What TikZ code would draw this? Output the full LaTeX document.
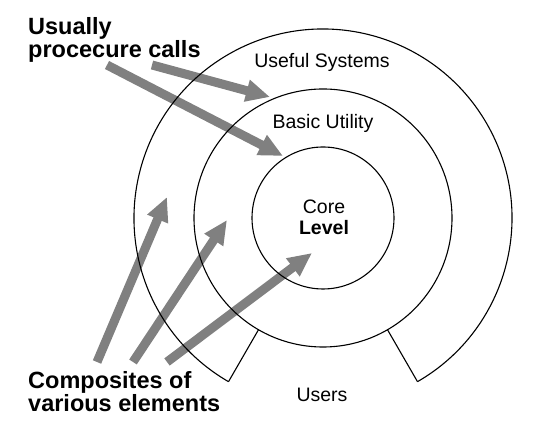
\documentclass[tikz,border=0pt]{standalone}
\usepackage{fontspec}
\setmainfont{Liberation Sans}
\usetikzlibrary{calc}
\usetikzlibrary{positioning, arrows.meta}

\begin{document}
\begin{tikzpicture}[x=1pt, y=1pt,
    ring/.style={draw=black, line width=1.1pt},
    callarrow/.style={draw=gray, line width=9pt, -{Triangle[length=24pt, width=21pt]}},
    ringlabel/.style={font=\fontsize{19.5}{21}\selectfont, inner sep=0pt},
    sidelabel/.style={font=\fontsize{23.5}{23.5}\selectfont\bfseries, align=left, inner sep=0pt, anchor=north west}]
    \useasboundingbox (0,0) rectangle (552,430);
    \coordinate (centre) at (323,212);

    \node[sidelabel] (calls) at (28,413) {Usually\\procecure calls};
    \node[sidelabel] (composites) at (28,59) {Composites of\\various elements};

    \coordinate (callA) at (152,365);
    \coordinate (callB) at (107,365);
    \coordinate (compA) at (97,68);
    \coordinate (compB) at (133,68);
    \coordinate (compC) at (167,68);
    \coordinate (hitA) at (270,333);
    \coordinate (hitB) at (283,274);
    \coordinate (hitC) at (167,233);
    \coordinate (hitD) at (227,210);
    \coordinate (hitE) at (312,177);

    \draw[callarrow] (callA) -- (hitA);
    \draw[callarrow] (callB) -- (hitB);
    \draw[callarrow] (compA) -- (hitC);
    \draw[callarrow] (compB) -- (hitD);
    \draw[callarrow] (compC) -- (hitE);

    \draw[ring] (centre) circle (71);
    \draw[ring] (centre) circle (129);
    \draw[ring] ($(centre)+(-60:189)$) arc (-60:240:189);
    \draw[ring] ($(centre)+(240:129)$) -- ($(centre)+(240:189)$);
    \draw[ring] ($(centre)+(300:129)$) -- ($(centre)+(300:189)$);

    \node[ringlabel] (useful) at (322,368) {Useful Systems};
    \node[ringlabel] (basic) at (323,307) {Basic Utility};
    \node[ringlabel, align=center] (core) at (324,213) {Core\\\bfseries Level};
    \node[ringlabel] (users) at (322,35) {Users};
\end{tikzpicture}
\end{document}
